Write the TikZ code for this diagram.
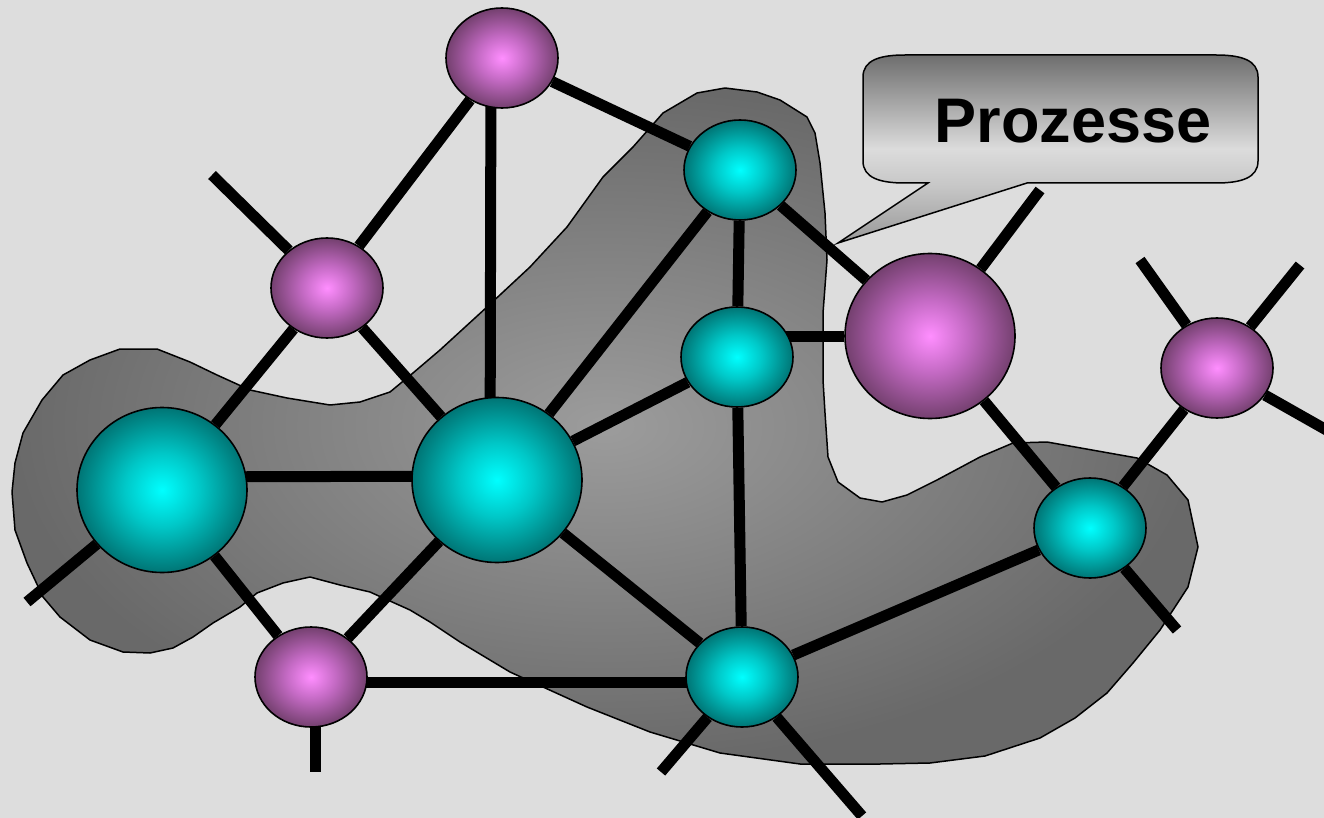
\documentclass[tikz,border=0pt]{standalone}
\usepackage{fontspec}
\setmainfont{Liberation Sans}
\usetikzlibrary{shapes.geometric}

\definecolor{bgcol}{HTML}{DDDDDD}
\definecolor{cyanin}{HTML}{00FFFF}
\definecolor{cyanmid}{HTML}{00C8C8}
\definecolor{cyanout}{HTML}{007575}
\definecolor{pinkin}{HTML}{FF8EFF}
\definecolor{pinkmid}{HTML}{C46AC4}
\definecolor{pinkout}{HTML}{74406F}
\definecolor{blobin}{HTML}{9C9C9C}
\definecolor{blobout}{HTML}{696969}
\definecolor{calltip}{HTML}{989898}
\definecolor{calllow}{HTML}{C6C6C6}
\definecolor{calllight}{HTML}{DCDCDC}
\definecolor{calltop}{HTML}{6E6E6E}

\pgfdeclareradialshading{cyanball}{\pgfpointorigin}{%
  color(0bp)=(cyanin); color(11bp)=(cyanmid); color(25bp)=(cyanout); color(50bp)=(cyanout)}
\pgfdeclareradialshading{pinkball}{\pgfpointorigin}{%
  color(0bp)=(pinkin); color(11bp)=(pinkmid); color(25bp)=(pinkout); color(50bp)=(pinkout)}
\pgfdeclareradialshading{blobshade}{\pgfpointorigin}{%
  color(0bp)=(blobin); color(25bp)=(blobout); color(50bp)=(blobout)}
\pgfdeclareverticalshading{calloutshade}{100bp}{%
  color(0bp)=(calltip); color(25bp)=(calltip); color(40bp)=(calllow);
  color(50bp)=(calllight); color(75bp)=(calltop); color(100bp)=(calltop)}

\pgfdeclarelayer{backdrop}
\pgfdeclarelayer{links}
\pgfsetlayers{backdrop,links,main}

\tikzset{
  link/.style={line width=11pt, black},
  ball/.style={ellipse, draw=black, line width=1.6pt, inner sep=0pt},
  cball/.style={ball, shading=cyanball},
  pball/.style={ball, shading=pinkball},
  smallball/.style={minimum width=112pt, minimum height=100pt},
  bigball/.style={minimum width=170pt, minimum height=165pt},
}

\begin{document}
\begin{tikzpicture}[x=1pt, y=-1pt]
\useasboundingbox (0,0) rectangle (1324,818);

% network nodes
\node[pball, smallball] (M1) at (502,58) {};
\node[pball, smallball] (M2) at (327,288) {};
\node[cball, bigball]   (C1) at (162,490) {};
\node[cball, bigball]   (C2) at (497,480) {};
\node[pball, smallball] (M3) at (311,677) {};
\node[cball, smallball] (C3) at (740,170) {};
\node[cball, smallball] (C4) at (737,357) {};
\node[pball, bigball]   (M4) at (930,336) {};
\node[pball, smallball] (M5) at (1217,368) {};
\node[cball, smallball] (C5) at (1090,528) {};
\node[cball, smallball] (C6) at (742,677) {};

% free ends of the open links
\coordinate (s1) at (212,175);
\coordinate (s2) at (27,602);
\coordinate (s3) at (315,772);
\coordinate (s4) at (1040,190);
\coordinate (s5) at (1140,260);
\coordinate (s6) at (1300,265);
\coordinate (s7) at (1330,432);
\coordinate (s8) at (1177,630);
\coordinate (s9) at (661,772);
\coordinate (s10) at (862,816);
\coordinate (tip) at (838,243);

\begin{pgfonlayer}{backdrop}
  \fill[bgcol] (0,0) rectangle (1324,818);
  % shaded process region
  \shadedraw[shading=blobshade, draw=black, line width=1.5pt, line join=round]
    (12,492) -- (15,463) -- (23,433) -- (42,400) -- (63,375) -- (90,360) -- (120,349)
    -- (157,349) -- (190,362) -- (217,375) -- (250,390) -- (287,398) -- (330,405)
    -- (360,402) -- (390,392) -- (413,373) -- (440,350) -- (487,307) -- (530,267)
    -- (567,227) -- (603,177) -- (633,147) -- (663,113) -- (697,93) -- (725,88)
    -- (757,92) -- (780,100) -- (807,117) -- (815,133) -- (820,163) -- (825,213)
    -- (827,260) -- (823,313) -- (823,380) -- (825,413) -- (828,457) -- (838,482)
    -- (860,498) -- (882,502) -- (907,495) -- (937,480) -- (980,457) -- (1013,443)
    -- (1047,442) -- (1137,458) -- (1167,475) -- (1188,500) -- (1198,547)
    -- (1188,587) -- (1160,630) -- (1133,663) -- (1107,693) -- (1075,718)
    -- (1040,738) -- (985,756) -- (930,763) -- (880,764) -- (800,764) -- (720,753)
    -- (650,732) -- (587,707) -- (543,687) -- (510,672) -- (460,642) -- (430,622)
    -- (410,610) -- (370,592) -- (340,585) -- (310,577) -- (283,583) -- (257,593)
    -- (240,607) -- (213,623) -- (193,637) -- (173,648) -- (150,653) -- (123,652)
    -- (90,640) -- (60,617) -- (43,597) -- (27,563) -- (15,530) -- cycle;
  % speech bubble
  \shadedraw[shading=calloutshade, draw=black, line width=1.5pt, line join=miter]
    (905,55) -- (1216,55) .. controls (1241,55) and (1258,60) .. (1258,77)
    -- (1258,161) .. controls (1258,178) and (1241,183) .. (1216,183)
    -- (1027,183) -- (tip) -- (928,183) -- (905,183)
    .. controls (880,183) and (863,178) .. (863,161)
    -- (863,77) .. controls (863,60) and (880,55) .. (905,55) -- cycle;
  \node[anchor=base, font=\fontsize{63}{63}\selectfont\bfseries, inner sep=0pt]
    (label) at (1073,143) {Prozesse};
\end{pgfonlayer}

\begin{pgfonlayer}{links}
  \draw[link] (M1) -- (M2);
  \draw[link] ([xshift=-11pt]M1.center) -- ([xshift=-7pt]C2.center);
  \draw[link] (M1) -- (C3);
  \draw[link] (M2) -- (C1);
  \draw[link] (M2) -- (C2);
  \draw[link] (M2) -- (s1);
  \draw[link] ([yshift=13pt]C1.center) -- ([yshift=4pt]C2.center);
  \draw[link] (C1) -- (M3);
  \draw[link] (C1) -- (s2);
  \draw[link] (C2) -- (C3);
  \draw[link] (C2) -- (C4);
  \draw[link] (C2) -- (C6);
  \draw[link] (C2) -- (M3);
  \draw[link] ([yshift=-5pt]M3.center) -- ([yshift=-5pt]C6.center);
  \draw[link] (s3 |- M3) -- (s3);
  \draw[link] (C3) -- (C4);
  \draw[link] (C3) -- (M4);
  \draw[link] (M4) -- (M4 -| C4);
  \draw[link] (C4) -- (C6);
  \draw[link] (M4) -- (s4);
  \draw[link] (M4) -- (C5);
  \draw[link] (C5) -- (M5);
  \draw[link] (C5) -- (C6);
  \draw[link] (C5) -- (s8);
  \draw[link] (M5) -- (s5);
  \draw[link] (M5) -- (s6);
  \draw[link] (M5) -- (s7);
  \draw[link] (C6) -- (s9);
  \draw[link] (C6) -- (s10);
\end{pgfonlayer}
\end{tikzpicture}
\end{document}
